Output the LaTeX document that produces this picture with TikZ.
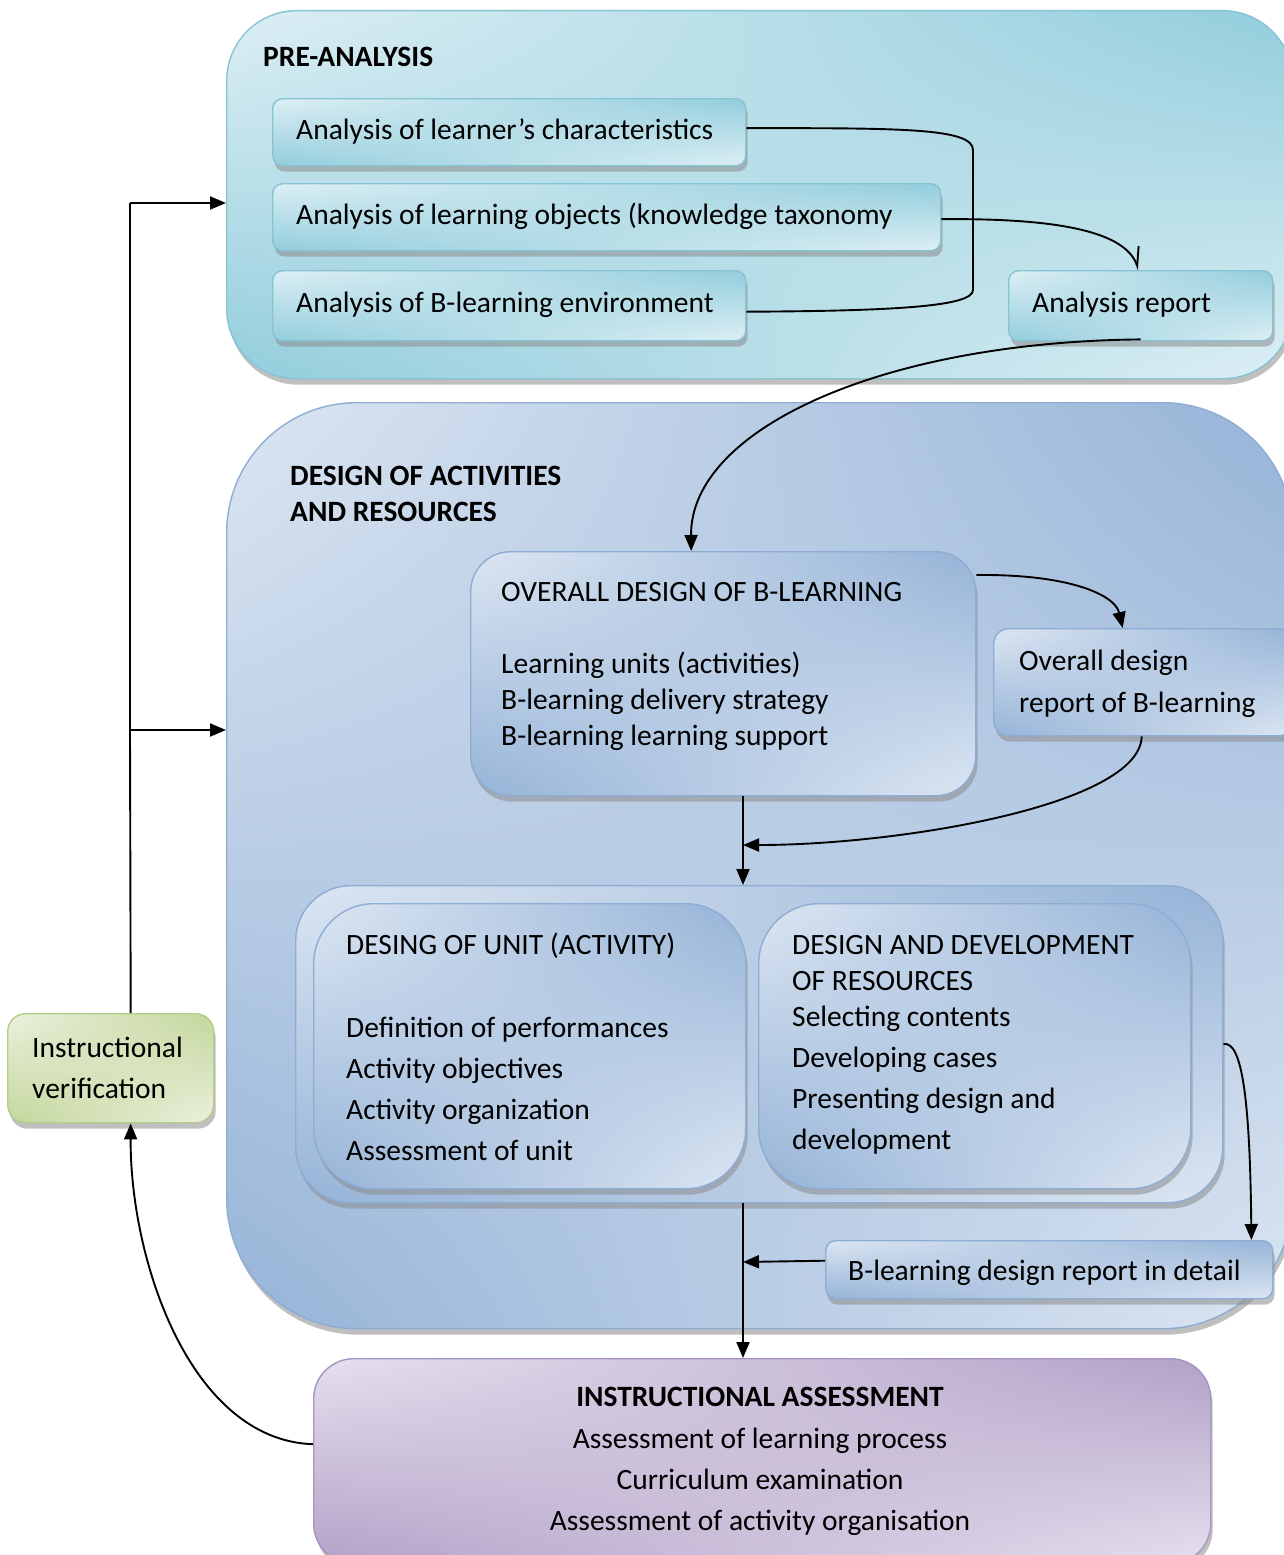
\documentclass[tikz,border=0pt]{standalone}
\usepackage{fontspec}
\setmainfont{Carlito}
\usetikzlibrary{arrows.meta,shadows,shadings}

\definecolor{tealdark}{HTML}{92CDDC}
\definecolor{teallight}{HTML}{DDEFF4}
\definecolor{tealline}{HTML}{86C3D4}
\definecolor{bluedark}{HTML}{95B3D7}
\definecolor{bluelight}{HTML}{DCE6F2}
\definecolor{blueline}{HTML}{8DADD5}
\definecolor{purpdark}{HTML}{B2A1C7}
\definecolor{purplight}{HTML}{E6E0EE}
\definecolor{purpline}{HTML}{A695C2}
\definecolor{greendark}{HTML}{C3D69B}
\definecolor{greenlight}{HTML}{EBF1DE}
\definecolor{greenline}{HTML}{B5CC88}

\tikzset{
  shadowed/.style={drop shadow={shadow xshift=2pt,shadow yshift=-6pt,fill=black!45,opacity=.55}},
  box/.style={anchor=north west,inner sep=0pt,shadowed},
  tealbox/.style={box,draw=tealline,line width=1.4pt,
    upper left=teallight,upper right=tealdark,lower left=tealdark,lower right=teallight},
  bluebox/.style={box,draw=blueline,line width=1.4pt,
    upper left=bluelight,upper right=bluedark,lower left=bluedark,lower right=bluelight},
  purpbox/.style={box,draw=purpline,line width=1.4pt,
    upper left=purplight,upper right=purpdark,lower left=purpdark,lower right=purplight},
  greenbox/.style={box,draw=greenline,line width=1.4pt,
    upper left=greenlight,upper right=greendark,lower left=greendark,lower right=greenlight},
  txt/.style={inner sep=0pt,anchor=west,text height=25pt,text depth=6pt,
    font=\fontsize{29.5}{34}\selectfont},
  btxt/.style={txt,font=\fontsize{29.5}{34}\selectfont\bfseries},
  conn/.style={line width=1.9pt,-{Triangle[length=16pt,width=13pt]}},
  plain/.style={line width=1.9pt},
}

\begin{document}
\begin{tikzpicture}[x=1pt,y=-1pt]
\useasboundingbox (0,0) rectangle (1284,1555);
\clip (0,0) rectangle (1284,1555);
\fill[white] (0,0) rectangle (1284,1555);

% ---- pre-analysis stage ----
\node[tealbox,rounded corners=70pt,minimum width=1066pt,minimum height=368pt] (pre) at (226,10) {};
\node[btxt] (preT) at (263,57) {PRE-ANALYSIS};
\node[tealbox,rounded corners=10pt,minimum width=473pt,minimum height=67pt] (learner) at (272,98) {};
\node[tealbox,rounded corners=10pt,minimum width=668pt,minimum height=67pt] (obj) at (272,183) {};
\node[tealbox,rounded corners=10pt,minimum width=473pt,minimum height=70pt] (env) at (272,270) {};
\node[tealbox,rounded corners=10pt,minimum width=264pt,minimum height=70pt] (report) at (1008,270) {};
\node[txt] (learnerT) at (296,130) {Analysis of learner’s characteristics};
\node[txt] (objT) at (296,215) {Analysis of learning objects (knowledge taxonomy};
\node[txt] (envT) at (296,303) {Analysis of B-learning environment};
\node[txt] (reportT) at (1032,303) {Analysis report};

% ---- design stage ----
\node[bluebox,rounded corners=130pt,minimum width=1066pt,minimum height=926pt] (design) at (226,402) {};
\node[btxt] (designT1) at (290,476) {DESIGN OF ACTIVITIES};
\node[btxt] (designT2) at (290,512) {AND RESOURCES};

\node[bluebox,rounded corners=40pt,minimum width=505pt,minimum height=244pt] (overall) at (470,551) {};
\node[txt] (overallT) at (501,592) {OVERALL DESIGN OF B-LEARNING};
\node[txt] (overall1) at (501,664) {Learning units (activities)};
\node[txt] (overall2) at (501,700) {B-learning delivery strategy};
\node[txt] (overall3) at (501,736) {B-learning learning support};

\node[bluebox,rounded corners=15pt,minimum width=300pt,minimum height=107pt] (ovrep) at (993,628) {};
\node[txt] (ovrep1) at (1019,661) {Overall design};
\node[txt] (ovrep2) at (1019,703) {report of B-learning};

\node[bluebox,rounded corners=55pt,minimum width=927pt,minimum height=317pt] (cont) at (295,885) {};
\node[bluebox,rounded corners=60pt,minimum width=432pt,minimum height=285pt] (unit) at (313,903) {};
\node[bluebox,rounded corners=60pt,minimum width=432pt,minimum height=285pt] (res) at (758,903) {};
\node[txt] (unitT) at (346,945) {DESING OF UNIT (ACTIVITY)};
\node[txt] (unit1) at (346,1028) {Definition of performances};
\node[txt] (unit2) at (346,1069) {Activity objectives};
\node[txt] (unit3) at (346,1110) {Activity organization};
\node[txt] (unit4) at (346,1151) {Assessment of unit};
\node[txt] (resT1) at (792,945) {DESIGN AND DEVELOPMENT};
\node[txt] (resT2) at (792,981) {OF RESOURCES};
\node[txt] (res1) at (792,1017) {Selecting contents};
\node[txt] (res2) at (792,1058) {Developing cases};
\node[txt] (res3) at (792,1099) {Presenting design and};
\node[txt] (res4) at (792,1140) {development};

\node[bluebox,rounded corners=10pt,minimum width=447pt,minimum height=58pt] (detail) at (825,1240) {};
\node[txt] (detailT) at (848,1271) {B-learning design report in detail};

% ---- assessment stage ----
\node[purpbox,rounded corners=40pt,minimum width=897pt,minimum height=205pt] (assess) at (313,1358) {};
\node[btxt,anchor=center] (assessT) at (760,1397) {INSTRUCTIONAL ASSESSMENT};
\node[txt,anchor=center] (assess1) at (760,1439) {Assessment of learning process};
\node[txt,anchor=center] (assess2) at (760,1480) {Curriculum examination};
\node[txt,anchor=center] (assess3) at (760,1521) {Assessment of activity organisation};

% ---- verification ----
\node[greenbox,rounded corners=18pt,minimum width=206pt,minimum height=109pt] (verif) at (7,1013) {};
\node[txt] (verif1) at (32,1048) {Instructional};
\node[txt] (verif2) at (32,1089) {verification};

% ---- connectors ----
\coordinate (vx) at (743,0);
\coordinate (join1) at (743,845);
\coordinate (join2) at (743,1262);
\coordinate (fb1) at (130,203);
\coordinate (fb2) at (130,730);

\draw[plain] ([yshift=4pt]learner.east) .. controls (900,128) and (973,128) .. (973,150)
  -- (973,290) .. controls (973,306) and (900,311) .. ([yshift=-6pt]env.east);
\draw[line width=1.9pt,-{Straight Barb[left,length=18pt,width=16pt,line width=1.9pt]}]
  ([yshift=-2pt]obj.east) .. controls (1060,218) and (1125,232) .. ([xshift=-2pt]report.north);
\draw[conn] ([yshift=2pt]report.south) .. controls (880,342) and (690,430) .. ([xshift=-32pt]overall.north);
\draw[conn] ([yshift=-24pt]overall.north east) .. controls (1070,574) and (1115,595) .. ([xshift=-21pt]ovrep.north);
\draw[conn] ([xshift=-2pt]ovrep.south) .. controls (1140,805) and (900,845) .. (join1);
\draw[conn] (overall.south -| vx) -- (cont.north -| vx);
\draw[conn] (cont.east) .. controls (1242,1040) and (1250,1100) .. ([xshift=-22pt]detail.north east);
\draw[conn] ([yshift=9pt]detail.west) -- (join2);
\draw[conn] (cont.south -| vx) -- (assess.north -| vx);
\draw[conn] ([yshift=17pt]assess.west) .. controls (190,1440) and (130,1260) .. ([xshift=20pt]verif.south);
\draw[plain] ([xshift=20pt]verif.north) -- (fb2) -- (fb1);
\draw[conn] (fb1) -- (fb1 -| pre.west);
\draw[conn] (fb2) -- (fb2 -| design.west);
\end{tikzpicture}
\end{document}
